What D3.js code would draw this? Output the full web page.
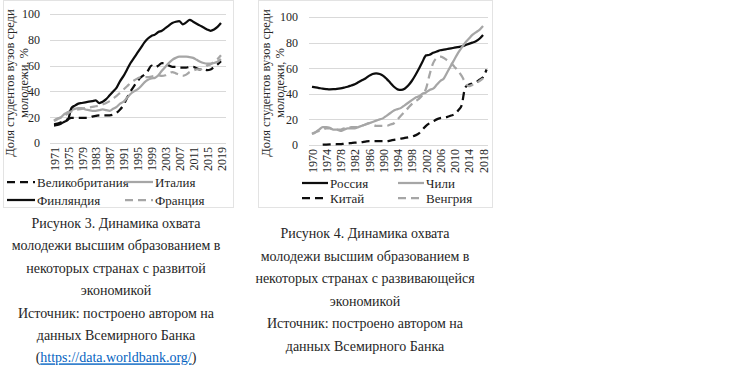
<!DOCTYPE html>
<html>
<head>
<meta charset="utf-8">
<script src="https://cdn.jsdelivr.net/npm/d3@7"></script>
<style>
  html, body { margin: 0; padding: 0; background: #fff; }
  svg { display: block; }
  text { font-family: "Liberation Serif", "Times New Roman", serif; fill: #262626; }
</style>
</head>
<body>
<svg id="chart" width="750" height="368"></svg>
<script>
// ---------- data ----------
const yTicks = [0, 20, 40, 60, 80, 100];

const yearsDev = [1971,1972,1973,1974,1975,1976,1977,1978,1979,1980,1981,1982,1983,1984,1985,1986,1987,1988,1989,1990,1991,1992,1993,1994,1995,1996,1997,1998,1999,2000,2001,2002,2003,2004,2005,2006,2007,2008,2009,2010,2011,2012,2013,2014,2015,2016,2017,2018,2019];
const devTickLabels = [1971,1975,1979,1983,1987,1991,1995,1999,2003,2007,2011,2015,2019];

const ukValues = [14.5,15,16,17,18.5,19.5,19.5,19.5,19.5,19.5,19.5,20.5,21,21.5,21.5,21.5,21.5,22,23.5,26,29.5,35,40,44,48,51,53,56,60,58.5,60,62,62,60,59,59,58.5,58.5,58.5,59,59,58,57,57,56.5,57,59,61,63.5];
const italyValues = [17.5,19,20,22.5,24,25.5,26.5,27,27,26,25.5,25,25,25.5,26,25.5,25,26.5,28,30.5,32,35,38,40,41.5,44,47,49,50,50.5,52.5,56,59,62,64.5,66,67,67,67,66.5,66,64.5,63,62,61.5,61.5,62,63,65];
const finlandValues = [13.5,14,15,16.5,18,27,29,30.5,31,31.5,32,32.5,33,31,32,34,37,40,43,48,52,57,62,66,70,74,78,81,83,84,86,87,89,91,93,94,94.5,92,93.5,95.5,94,92.5,91,89.5,88,87,88,90,93];
const franceValues = [17,18.5,19.5,21,23,24.5,25.5,26,26.5,27,27.5,28,28.5,29,30,31,32.5,34.5,36.5,39,41.5,44,46.5,48.5,50,51,51,51,51.5,52,52.5,52,52.5,54,55,54,53,52,53,55,56,57,57,58,60,61,63,65,68];

const yearsEm = [1970,1971,1972,1973,1974,1975,1976,1977,1978,1979,1980,1981,1982,1983,1984,1985,1986,1987,1988,1989,1990,1991,1992,1993,1994,1995,1996,1997,1998,1999,2000,2001,2002,2003,2004,2005,2006,2007,2008,2009,2010,2011,2012,2013,2014,2015,2016,2017,2018,2019];
const emTickLabels = [1970,1974,1978,1982,1986,1990,1994,1998,2002,2006,2010,2014,2018];

const russiaValues = [45.5,45,44.5,44,43.7,43.5,43.6,43.8,44.2,44.8,45.5,46.5,47.5,49,50.5,52,54,55.5,56,55.5,54,51.5,48.5,45.5,43.5,43,44,46.5,50,54.5,59.5,65,70,70.5,72,73,74,74.5,75,75.5,76,76.5,77,78,79,80,81,83,86,null];
const chileValues = [8.5,10,12,14,14,13.5,12,12,11,12,13,13,13,14,15,16,17,18,19,20,21,23,25,27,28,29,31,33,35,37,38,40,41,43,44,47,50,52,57,62,67,72,76,80,83,86,88,90,93,null];
const chinaValues = [null,null,null,0.2,0.3,0.4,0.5,0.6,0.7,1,1.2,1.5,1.8,2,2.3,2.7,3,3,3,3,3,3,3.5,4,4.5,5,5.5,6,6.5,7.5,9,12,15,17,18.5,20,21,21.5,22,23,24,27,31,45,47,48,49,51,53,59];
const hungaryValues = [9,10,11,12,13,13,12,12,12,13,13,14,14,14,15,16,17,16,15,15,15,15,16,17,20,23,26,29,32,34,36,39,44,55,64,68,69,68,66,64,61,58,54,49,46,47,48,50,52,null];

const BLACK = "#0d0d0d", GRAY = "#a6a6a6";

const svg = d3.select("#chart");

function drawChart(cfg) {
  const g = svg.append("g");
  // frame
  g.append("rect").attr("x", cfg.box[0] + 0.5).attr("y", cfg.box[1] + 0.5)
    .attr("width", cfg.box[2]).attr("height", cfg.box[3])
    .attr("fill", "none").attr("stroke", "#e3e3e3").attr("stroke-width", 1);

  const x = d3.scalePoint().domain(cfg.years).range(cfg.xRange);
  const y = d3.scaleLinear().domain([0, 100]).range(cfg.yRange);

  // gridlines
  g.append("g").selectAll("line").data(yTicks).join("line")
    .attr("x1", cfg.gridX[0]).attr("x2", cfg.gridX[1])
    .attr("y1", d => Math.round(y(d)) + 0.5).attr("y2", d => Math.round(y(d)) + 0.5)
    .attr("stroke", "#d9d9d9").attr("stroke-width", 1);

  // y axis labels
  const yAxis = d3.axisLeft(y).tickValues(yTicks).tickSize(0).tickPadding(0);
  const ya = g.append("g").attr("transform", `translate(${cfg.yLabelX},0)`).call(yAxis);
  ya.select(".domain").remove();
  ya.selectAll("text").attr("font-size", 12).attr("font-family", "Liberation Serif").attr("fill", "#262626");

  // x axis labels
  const xAxis = d3.axisBottom(x).tickValues(cfg.tickLabels).tickSize(0).tickPadding(0);
  const xa = g.append("g").attr("transform", `translate(0,${cfg.yRange[0]})`).call(xAxis);
  xa.select(".domain").remove();
  xa.selectAll("text")
    .attr("font-size", 12).attr("font-family", "Liberation Serif").attr("fill", "#262626")
    .attr("transform", "rotate(-90)")
    .attr("text-anchor", "end")
    .attr("x", -4).attr("y", 0).attr("dy", "0.35em");

  // y title
  const tx = cfg.titleX, ty = cfg.titleY;
  const t = g.append("text").attr("transform", `translate(${tx},${ty}) rotate(-90)`)
    .attr("text-anchor", "middle").attr("font-size", 12.5);
  t.append("tspan").attr("x", 0).attr("dy", 0).text("Доля студентов вузов среди");
  t.append("tspan").attr("x", 0).attr("dy", 13.5).text("молодежи, %");

  // lines
  const line = d3.line().defined(d => d[1] != null).x(d => x(d[0])).y(d => y(d[1])).curve(d3.curveMonotoneX);
  cfg.series.forEach(s => {
    g.append("path").datum(cfg.years.map((yr, i) => [yr, s.values[i]]))
      .attr("d", line).attr("fill", "none").attr("stroke", s.color)
      .attr("stroke-width", 2.25).attr("stroke-dasharray", s.dash ? "8,5" : null)
      .attr("stroke-linejoin", "round");
  });

  // legend
  cfg.series.forEach((s, i) => {
    const col = i % 2, row = Math.floor(i / 2);
    const lx = cfg.legX[col], ly = cfg.legY[row];
    g.append("line").attr("x1", lx).attr("x2", lx + cfg.legSym).attr("y1", ly).attr("y2", ly)
      .attr("stroke", s.color).attr("stroke-width", 2.25).attr("stroke-dasharray", s.dash ? "8,5" : null);
    g.append("text").attr("x", lx + cfg.legSym + 2).attr("y", ly).attr("dy", "0.35em")
      .attr("font-size", 13).text(s.name);
  });

  // caption
  const cap = g.append("text").attr("text-anchor", "middle").attr("font-size", 14).attr("fill", "#111");
  cfg.caption.forEach((c, i) => {
    const ts = cap.append("tspan").attr("x", cfg.capX).attr("y", cfg.capY + i * cfg.capStep);
    if (typeof c === "string") ts.text(c);
    else c.forEach(part => {
      const p = ts.append("tspan").text(part.t);
      if (part.link) p.attr("fill", "#0563c1").attr("text-decoration", "underline");
    });
  });
}

drawChart({
  box: [3, 0, 230, 207],
  years: yearsDev, tickLabels: devTickLabels,
  xRange: [54, 221], yRange: [143, 14], gridX: [50, 226], yLabelX: 40,
  titleX: 14, titleY: 83,
  series: [
    { name: "Великобритания", values: ukValues, color: BLACK, dash: true },
    { name: "Италия", values: italyValues, color: GRAY, dash: false },
    { name: "Финляндия", values: finlandValues, color: BLACK, dash: false },
    { name: "Франция", values: franceValues, color: GRAY, dash: true }
  ],
  legX: [7, 125], legY: [182, 200], legSym: 28,
  caption: [
    "Рисунок 3. Динамика охвата",
    "молодежи высшим образованием в",
    "некоторых странах с развитой",
    "экономикой",
    "Источник: построено автором на",
    "данных Всемирного Банка",
    [{ t: "(" }, { t: "https://data.worldbank.org/", link: true }, { t: ")" }]
  ],
  capX: 116, capY: 228, capStep: 22.4
});

drawChart({
  box: [258, 0, 234, 207],
  years: yearsEm, tickLabels: emTickLabels,
  xRange: [312, 486.6], yRange: [145, 17], gridX: [309, 488], yLabelX: 298,
  titleX: 270, titleY: 83,
  series: [
    { name: "Россия", values: russiaValues, color: BLACK, dash: false },
    { name: "Чили", values: chileValues, color: GRAY, dash: false },
    { name: "Китай", values: chinaValues, color: BLACK, dash: true },
    { name: "Венгрия", values: hungaryValues, color: GRAY, dash: true }
  ],
  legX: [302, 398], legY: [183, 198], legSym: 26,
  caption: [
    "Рисунок 4. Динамика охвата",
    "молодежи высшим образованием в",
    "некоторых странах с развивающейся",
    "экономикой",
    "Источник: построено автором на",
    "данных Всемирного Банка"
  ],
  capX: 365, capY: 238, capStep: 22.6
});
</script>
</body>
</html>
